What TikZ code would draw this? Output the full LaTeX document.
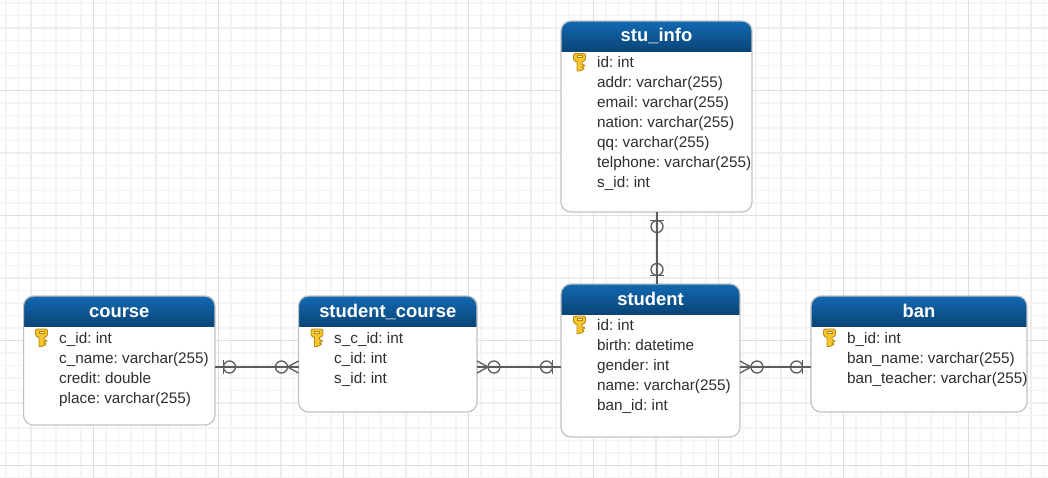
\documentclass[tikz,border=0pt]{standalone}
\usepackage{fontspec}
\setmainfont{Liberation Sans}
\frenchspacing
\definecolor{gridminor}{HTML}{F4F4F4}
\definecolor{gridmid}{HTML}{EEEEEE}
\definecolor{gridmajor}{HTML}{DEDEDE}
\definecolor{headtop}{HTML}{1269B2}
\definecolor{headbot}{HTML}{0A4577}
\definecolor{linkgray}{HTML}{5C5C5C}
\definecolor{keygold}{HTML}{F6C52F}
\definecolor{keyedge}{HTML}{B98A12}
\definecolor{keyhole}{HTML}{FFF0B0}
\tikzset{
  entbox/.style={draw=black!24,line width=1.2pt,fill=white,rounded corners=10pt,inner sep=0pt,outer sep=0pt,
    path picture={\foreach \j in {0,...,30}{
      \pgfmathsetmacro\m{100-100*\j/30}
      \fill[sharp corners,headtop!\m!headbot]
        ([yshift=-\j pt]path picture bounding box.north west) rectangle ([yshift=-\j pt-1.2pt]path picture bounding box.north east);}}},
  titletext/.style={anchor=base,text=white,inner sep=0pt,font=\fontsize{18.4}{20}\selectfont\bfseries},
  rowtext/.style={anchor=base west,text=black!82,inner sep=0pt,font=\fontsize{15.3}{18}\selectfont},
  linkline/.style={draw=linkgray,line width=1.3pt},
  onemark/.pic={
    \draw[linkline] (8.5,-7) -- (8.5,7);
    \draw[linkline] (14.5,0) circle (6);
  },
  manymark/.pic={
    \draw[linkline] (0,-6) -- (11,0) -- (0,6);
    \draw[linkline] (17,0) circle (6);
  },
  keyicon/.pic={
    \filldraw[fill=keygold,draw=keyedge,line width=0.9pt,line join=round]
      (-6,-6.5) .. controls (-6,-8) and (-5,-8.5) .. (-3.5,-8.5) -- (3.5,-8.5)
      .. controls (5,-8.5) and (6,-8) .. (6,-6.5) -- (6,-3)
      .. controls (6,-1.5) and (4,-0.5) .. (2.5,0) -- (2.5,2) -- (5.5,3.5) -- (2.5,5) -- (4.5,6.5) -- (2.5,8) -- (0,9) -- (-2.5,9)
      -- (-2.5,0) .. controls (-4,-0.5) and (-6,-1.5) .. (-6,-3) -- cycle;
    \filldraw[fill=keyhole,draw=keyedge,line width=0.6pt] (-2.6,-6.6) rectangle (2.6,-4.2);
  }
}
\begin{document}
\begin{tikzpicture}[x=1pt,y=-1pt]
  \useasboundingbox (0,0) rectangle (1048,478);
  \fill[white] (0,0) rectangle (1048,478);
  % background grid
  \foreach \i in {0,...,83} \draw[gridminor,line width=1.1pt] ({6+12.5*\i},0) -- ++(0,478);
  \foreach \i in {0,...,38} \draw[gridminor,line width=1.1pt] (0,{3+12.5*\i}) -- ++(1048,0);
  \foreach \i in {0,...,16} \draw[gridmid,line width=1.1pt] ({31+62.5*\i},0) -- ++(0,478);
  \foreach \i in {0,...,7} \draw[gridmid,line width=1.1pt] (0,{28+62.5*\i}) -- ++(1048,0);
  \foreach \i in {0,...,7} \draw[gridmajor,line width=1.1pt] ({93.5+125*\i},0) -- ++(0,478);
  \foreach \i in {0,...,3} \draw[gridmajor,line width=1.1pt] (0,{90.5+125*\i}) -- ++(1048,0);

  % tables
  \node[entbox,minimum width=191.5pt,minimum height=129pt] (course) at (119.25,360.5) {};
  \node[entbox,minimum width=178.5pt,minimum height=116pt] (stucourse) at (387.75,354) {};
  \node[entbox,minimum width=179pt,minimum height=153pt] (student) at (650.5,360.5) {};
  \node[entbox,minimum width=191pt,minimum height=191pt] (stuinfo) at (656.5,116.5) {};
  \node[entbox,minimum width=216pt,minimum height=116pt] (ban) at (919,354) {};

  \node[titletext] (coursetitle) at ([yshift=-21pt]course.north) {course};
  \node[titletext] (stucoursetitle) at ([yshift=-21pt]stucourse.north) {student\_course};
  \node[titletext] (studenttitle) at ([yshift=-21pt]student.north) {student};
  \node[titletext] (stuinfotitle) at ([yshift=-21pt]stuinfo.north) {stu\_info};
  \node[titletext] (bantitle) at ([yshift=-21pt]ban.north) {ban};

  \foreach \t [count=\i] in {c\_id: int,c\_name: varchar(255),credit: double,place: varchar(255)}
    \node[rowtext] (coursesrow\i) at (59,{323+20*\i}) {\t};
  \foreach \t [count=\i] in {s\_c\_id: int,c\_id: int,s\_id: int}
    \node[rowtext] (stucourserow\i) at (334,{323+20*\i}) {\t};
  \foreach \t [count=\i] in {id: int,birth: datetime,gender: int,name: varchar(255),ban\_id: int}
    \node[rowtext] (studentrow\i) at (597,{310+20*\i}) {\t};
  \foreach \t [count=\i] in {id: int,addr: varchar(255),email: varchar(255),nation: varchar(255),qq: varchar(255),telphone: varchar(255),s\_id: int}
    \node[rowtext] (stuinforow\i) at (597,{48+20*\i}) {\t};
  \foreach \t [count=\i] in {b\_id: int,ban\_name: varchar(255),ban\_teacher: varchar(255)}
    \node[rowtext] (banrow\i) at (847,{323+20*\i}) {\t};

  % key icons
  \pic at (41.5,337.5) {keyicon};
  \pic at (317,337.5) {keyicon};
  \pic at (579.5,324.5) {keyicon};
  \pic at (579.5,62) {keyicon};
  \pic at (829.5,337.5) {keyicon};

  % links
  \coordinate (linkh) at (0,367);
  \coordinate (linkv) at (657,0);
  \draw[linkline] (course.east |- linkh) -- (stucourse.west |- linkh);
  \draw[linkline] (stucourse.east |- linkh) -- (student.west |- linkh);
  \draw[linkline] (student.east |- linkh) -- (ban.west |- linkh);
  \draw[linkline] (stuinfo.south -| linkv) -- (student.north -| linkv);
  \pic at (course.east |- linkh) {onemark};
  \pic[rotate=180] at (stucourse.west |- linkh) {manymark};
  \pic at (stucourse.east |- linkh) {manymark};
  \pic[rotate=180] at (student.west |- linkh) {onemark};
  \pic at (student.east |- linkh) {manymark};
  \pic[rotate=180] at (ban.west |- linkh) {onemark};
  \pic[rotate=-90] at (stuinfo.south -| linkv) {onemark};
  \pic[rotate=90] at (student.north -| linkv) {onemark};
\end{tikzpicture}
\end{document}
